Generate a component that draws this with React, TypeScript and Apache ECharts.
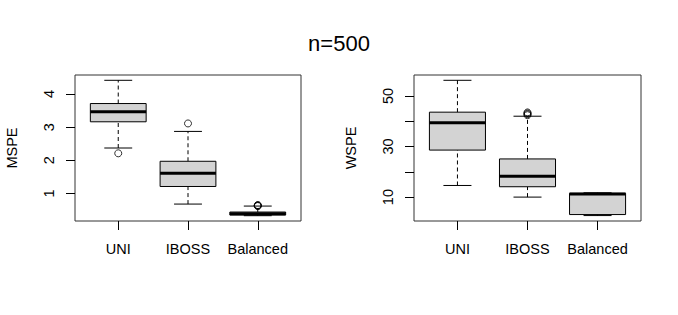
import React, { useEffect, useRef } from "react";
import * as echarts from "echarts";

const categories = ["UNI", "IBOSS", "Balanced"];
// [lowerWhisker, Q1, median, Q3, upperWhisker]
const mspeStats = [
  [2.37, 3.16, 3.46, 3.71, 4.41],
  [0.68, 1.21, 1.61, 1.97, 2.87],
  [0.33, 0.35, 0.39, 0.44, 0.62],
];
const mspeOutliers = [[2.21], [3.11], [0.62, 0.63, 0.64, 0.65]];
const wspeStats = [
  [14.6, 28.6, 39.4, 43.6, 56.2],
  [10.0, 14.1, 18.3, 25.1, 42.0],
  [2.7, 3.1, 11.2, 11.5, 11.7],
];
const wspeOutliers = [[], [42.4, 42.8, 43.1, 43.5], []];
const mspeTicks = [1, 2, 3, 4];
const mspeLabels = [1, 2, 3, 4];
const wspeTicks = [10, 20, 30, 40, 50];
const wspeLabels = [10, 30, 50];

const FONT = "'Liberation Sans', Arial, Helvetica, sans-serif";

function renderBox(params: any, api: any) {
  const x = api.value(0);
  const lo = api.value(1);
  const q1 = api.value(2);
  const med = api.value(3);
  const q3 = api.value(4);
  const hi = api.value(5);
  const [cx, yLo] = api.coord([x, lo]);
  const yQ1 = api.coord([x, q1])[1];
  const yMed = api.coord([x, med])[1];
  const yQ3 = api.coord([x, q3])[1];
  const yHi = api.coord([x, hi])[1];
  const bw = api.size([0.8, 0])[0];
  const half = bw / 2;
  const sh = bw / 4;
  const thin = { stroke: "#000", lineWidth: 1 };
  const dash = { stroke: "#000", lineWidth: 1, lineDash: [4, 3] };
  return {
    type: "group",
    children: [
      { type: "line", shape: { x1: cx, y1: yLo, x2: cx, y2: yQ1 }, style: dash },
      { type: "line", shape: { x1: cx, y1: yQ3, x2: cx, y2: yHi }, style: dash },
      { type: "line", shape: { x1: cx - sh, y1: yLo, x2: cx + sh, y2: yLo }, style: thin },
      { type: "line", shape: { x1: cx - sh, y1: yHi, x2: cx + sh, y2: yHi }, style: thin },
      {
        type: "rect",
        shape: { x: cx - half, y: yQ3, width: bw, height: yQ1 - yQ3 },
        style: { fill: "#D3D3D3", stroke: "#000", lineWidth: 1 },
      },
      { type: "line", shape: { x1: cx - half, y1: yMed, x2: cx + half, y2: yMed }, style: { stroke: "#000", lineWidth: 3 } },
    ],
  };
}

function boxData(stats: number[][]) {
  return stats.map((s, i) => [i + 1, ...s]);
}
function outlierData(outs: number[][]) {
  const r: number[][] = [];
  outs.forEach((o, i) => o.forEach((v) => r.push([i + 1, v])));
  return r;
}

function xAxisFor(gridIndex: number) {
  return {
    type: "value",
    gridIndex,
    min: 0.38,
    max: 3.62,
    axisLine: { show: false },
    splitLine: { show: false },
    axisTick: { show: true, customValues: [1, 2, 3], length: 9, lineStyle: { color: "#000" } },
    axisLabel: {
      customValues: [1, 2, 3],
      formatter: (v: number) => categories[Math.round(v) - 1],
      color: "#000",
      fontSize: 14.5,
      fontFamily: FONT,
      margin: 20,
    },
  };
}

function yAxisFor(gridIndex: number, name: string, min: number, max: number, ticks: number[], labels: number[]) {
  return {
    type: "value",
    gridIndex,
    min,
    max,
    name,
    nameLocation: "middle",
    nameGap: 56,
    nameTextStyle: { color: "#000", fontSize: 14.5, fontFamily: FONT },
    axisLine: { show: false },
    splitLine: { show: false },
    axisTick: { show: true, customValues: ticks, length: 9, lineStyle: { color: "#000" } },
    axisLabel: {
      customValues: labels,
      rotate: 90,
      color: "#000",
      fontSize: 14.5,
      fontFamily: FONT,
      margin: 19,
    },
  };
}

export default function App() {
  const ref = useRef<HTMLDivElement>(null);
  useEffect(() => {
    if (!ref.current) return;
    const chart = echarts.init(ref.current, null, { renderer: "svg" });
    const outlierStyle = { color: "transparent", borderColor: "#000", borderWidth: 1 };
    chart.setOption({
      animation: false,
      backgroundColor: "#fff",
      title: {
        text: "n=500",
        left: "center",
        top: 27,
        textStyle: { color: "#000", fontSize: 22, fontWeight: "normal", fontFamily: FONT },
      },
      grid: [
        { left: 75, top: 75, width: 226, height: 146, show: true, borderColor: "#333", borderWidth: 1, backgroundColor: "transparent" },
        { left: 414, top: 75, width: 227, height: 146, show: true, borderColor: "#333", borderWidth: 1, backgroundColor: "transparent" },
      ],
      xAxis: [xAxisFor(0), xAxisFor(1)],
      yAxis: [
        yAxisFor(0, "MSPE", 0.17, 4.57, mspeTicks, mspeLabels),
        yAxisFor(1, "WSPE", 0.55, 58.3, wspeTicks, wspeLabels),
      ],
      series: [
        {
          type: "custom",
          xAxisIndex: 0,
          yAxisIndex: 0,
          renderItem: renderBox,
          encode: { x: 0, y: [1, 2, 3, 4, 5] },
          data: boxData(mspeStats),
        },
        {
          type: "scatter",
          xAxisIndex: 0,
          yAxisIndex: 0,
          symbol: "circle",
          symbolSize: 7,
          itemStyle: outlierStyle,
          data: outlierData(mspeOutliers),
        },
        {
          type: "custom",
          xAxisIndex: 1,
          yAxisIndex: 1,
          renderItem: renderBox,
          encode: { x: 0, y: [1, 2, 3, 4, 5] },
          data: boxData(wspeStats),
        },
        {
          type: "scatter",
          xAxisIndex: 1,
          yAxisIndex: 1,
          symbol: "circle",
          symbolSize: 7,
          itemStyle: outlierStyle,
          data: outlierData(wspeOutliers),
        },
      ],
    });
    return () => chart.dispose();
  }, []);
  return (
    <div
      ref={ref}
      style={{ position: "absolute", left: 0, top: 0, width: 678, height: 315 }}
    />
  );
}
